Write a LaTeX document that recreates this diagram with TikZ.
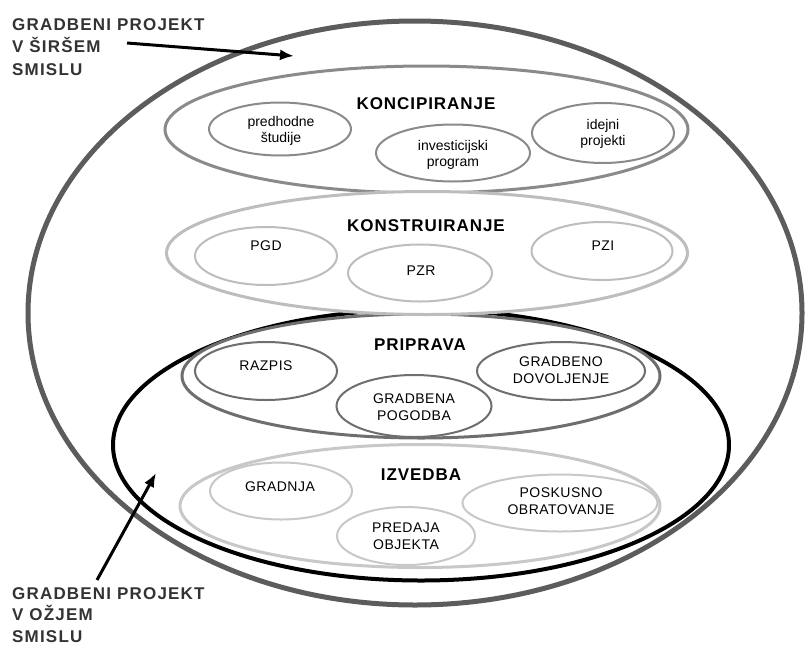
\documentclass[tikz,border=0pt]{standalone}
\usepackage{fontspec}
\setmainfont{Liberation Sans}
\usetikzlibrary{shapes.geometric,arrows.meta}
\definecolor{couter}{HTML}{5C5C5C}
\definecolor{ckon}{HTML}{8A8A8A}
\definecolor{ckons}{HTML}{BDBDBD}
\definecolor{cpri}{HTML}{6E6E6E}
\definecolor{cizv}{HTML}{C8C8C8}
\definecolor{clbl}{HTML}{333333}
\tikzset{
  grp/.style={ellipse, draw, fill=white, inner sep=0pt, line width=3pt},
  sub/.style={ellipse, draw, inner sep=0pt, line width=2pt},
  ttl/.style={font=\fontsize{17}{20}\selectfont\bfseries\addfontfeature{LetterSpace=5.5}, inner sep=0pt},
  itx/.style={font=\fontsize{14}{16.5}\selectfont, align=center, inner sep=0pt},
  itxu/.style={font=\fontsize{14}{16.5}\selectfont\addfontfeature{LetterSpace=3.5}, align=center, inner sep=0pt},
  lbl/.style={font=\fontsize{17}{22.5}\selectfont\bfseries\addfontfeature{LetterSpace=7}, align=left, anchor=north west, text=clbl, inner sep=0pt},
  lblb/.style={font=\fontsize{17}{21.5}\selectfont\bfseries\addfontfeature{LetterSpace=7}, align=left, anchor=north west, text=clbl, inner sep=0pt},
  pointer/.style={line width=3pt, -{Latex[length=14pt,width=11pt]}}
}
\begin{document}
\begin{tikzpicture}[x=1pt,y=-1pt]
\useasboundingbox (0,0) rectangle (805,648);
% outer ellipses
\node[ellipse, draw=couter, line width=5pt, minimum width=774, minimum height=584, inner sep=0pt] (outer) at (415,313) {};
\node[ellipse, draw=black, line width=4pt, minimum width=616, minimum height=271, inner sep=0pt] (narrow) at (421,445) {};
% KONCIPIRANJE
\node[grp, draw=ckon, minimum width=523, minimum height=127] (kon) at (426.5,129.5) {};
\node[ttl] (konT) at (426,104) {KONCIPIRANJE};
\node[sub, draw=ckon, minimum width=142, minimum height=53] (pred) at (280,129) {};
\node[itx] (predT) at (281,131) {predhodne\\študije};
\node[sub, draw=ckon, minimum width=154, minimum height=57] (inv) at (453,153) {};
\node[itx] (invT) at (453,155) {investicijski\\program};
\node[sub, draw=ckon, minimum width=142, minimum height=60] (ide) at (603,133) {};
\node[itx] (ideT) at (603,134) {idejni\\projekti};
% PRIPRAVA
\node[grp, draw=cpri, minimum width=478, minimum height=124] (pri) at (421,376) {};
% KONSTRUIRANJE
\node[grp, draw=ckons, minimum width=521, minimum height=123] (kons) at (427,253) {};
\node[ttl] (konsT) at (426,226) {KONSTRUIRANJE};
\node[sub, draw=ckons, minimum width=142, minimum height=58] (pgd) at (266,256) {};
\node[itxu] (pgdT) at (266,246) {PGD};
\node[sub, draw=ckons, minimum width=144, minimum height=57] (pzr) at (420,273) {};
\node[itxu] (pzrT) at (421,271) {PZR};
\node[sub, draw=ckons, minimum width=141, minimum height=58] (pzi) at (602,251) {};
\node[itxu] (pziT) at (603,246) {PZI};
% PRIPRAVA content
\node[ttl] (priT) at (420,345) {PRIPRAVA};
\node[sub, draw=cpri, minimum width=142, minimum height=58] (raz) at (266,371) {};
\node[itxu] (razT) at (266,366) {RAZPIS};
\node[sub, draw=cpri, minimum width=155, minimum height=62] (pog) at (414,406) {};
\node[itxu] (pogT) at (414,407) {GRADBENA\\POGODBA};
\node[sub, draw=cpri, minimum width=168, minimum height=58] (dov) at (561,371) {};
\node[itxu] (dovT) at (561,370) {GRADBENO\\DOVOLJENJE};
% IZVEDBA
\node[grp, draw=cizv, minimum width=480, minimum height=123] (izv) at (420,506) {};
\node[ttl] (izvT) at (421,475) {IZVEDBA};
\node[sub, draw=cizv, minimum width=142, minimum height=57] (gra) at (281,491) {};
\node[itxu] (graT) at (280,487) {GRADNJA};
\node[sub, draw=cizv, minimum width=138, minimum height=58] (pre) at (406,536) {};
\node[itxu] (preT) at (406,536) {PREDAJA\\OBJEKTA};
\node[sub, draw=cizv, minimum width=195, minimum height=57] (pos) at (560,503) {};
\node[itxu] (posT) at (561,501) {POSKUSNO\\OBRATOVANJE};
% labels
\node[lbl] (lab1) at (12,18) {GRADBENI PROJEKT\\V ŠIRŠEM\\SMISLU};
\node[lblb] (lab2) at (12,587) {GRADBENI PROJEKT\\V OŽJEM\\SMISLU};
\coordinate (a1s) at (127,43);
\coordinate (a1e) at (294,56);
\coordinate (a2s) at (97,580);
\coordinate (a2e) at (156,473);
\draw[pointer] (a1s) -- (a1e);
\draw[pointer] (a2s) -- (a2e);
\end{tikzpicture}
\end{document}
